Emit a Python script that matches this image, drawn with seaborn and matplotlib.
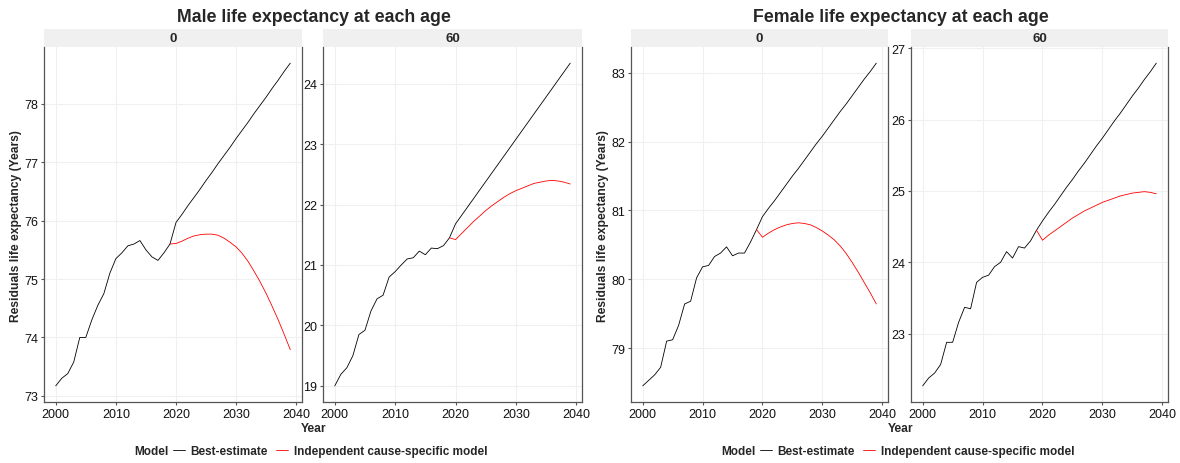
import numpy as np
import pandas as pd
import matplotlib
matplotlib.use('Agg')
import matplotlib.pyplot as plt
from matplotlib.patches import Rectangle
from matplotlib.lines import Line2D
import seaborn as sns

# ---- data ----
years = np.arange(2000, 2040)
proj_years = np.arange(2019, 2040)
models = ['Best-estimate', 'Independent cause-specific model']
ages = ['0', '60']

# Male, age 0
male_0_best = [73.17, 73.30, 73.38, 73.58, 74.00, 74.00, 74.30, 74.55, 74.75, 75.10,
               75.35, 75.45, 75.57, 75.60, 75.66, 75.50, 75.38, 75.32, 75.45, 75.60,
               75.97, 76.11, 76.26, 76.40, 76.54, 76.69, 76.83, 76.98, 77.12, 77.26,
               77.41, 77.55, 77.69, 77.84, 77.98, 78.12, 78.27, 78.41, 78.56, 78.70]
male_0_indep = [75.60, 75.61, 75.65, 75.70, 75.74, 75.76, 75.77, 75.77, 75.75, 75.70,
                75.63, 75.55, 75.44, 75.30, 75.13, 74.95, 74.75, 74.53, 74.30, 74.05,
                73.79]

# Male, age 60
male_60_best = [19.00, 19.19, 19.30, 19.50, 19.85, 19.92, 20.24, 20.44, 20.50, 20.80,
                20.89, 21.00, 21.10, 21.12, 21.23, 21.17, 21.28, 21.27, 21.32, 21.45,
                21.68, 21.82, 21.96, 22.10, 22.24, 22.38, 22.52, 22.66, 22.80, 22.94,
                23.08, 23.22, 23.36, 23.50, 23.64, 23.78, 23.92, 24.06, 24.20, 24.34]
male_60_indep = [21.45, 21.42, 21.52, 21.62, 21.72, 21.81, 21.90, 21.98, 22.05, 22.12,
                 22.18, 22.23, 22.27, 22.31, 22.35, 22.37, 22.39, 22.40, 22.39, 22.37,
                 22.34]

# Female, age 0
female_0_best = [78.45, 78.53, 78.61, 78.72, 79.10, 79.12, 79.33, 79.64, 79.68, 80.02,
                 80.18, 80.20, 80.33, 80.38, 80.47, 80.34, 80.38, 80.38, 80.54, 80.72,
                 80.91, 81.03, 81.14, 81.26, 81.38, 81.50, 81.61, 81.73, 81.85, 81.97,
                 82.08, 82.20, 82.32, 82.44, 82.55, 82.67, 82.79, 82.91, 83.02, 83.14]
female_0_indep = [80.72, 80.61, 80.67, 80.72, 80.76, 80.79, 80.81, 80.82, 80.81, 80.79,
                  80.75, 80.70, 80.64, 80.57, 80.48, 80.37, 80.24, 80.10, 79.95, 79.80,
                  79.64]

# Female, age 60
female_60_best = [22.27, 22.38, 22.45, 22.57, 22.88, 22.88, 23.16, 23.37, 23.35, 23.72,
                  23.79, 23.82, 23.94, 24.00, 24.15, 24.06, 24.22, 24.20, 24.30, 24.45,
                  24.58, 24.70, 24.81, 24.93, 25.05, 25.16, 25.28, 25.39, 25.51, 25.63,
                  25.74, 25.86, 25.98, 26.09, 26.21, 26.33, 26.44, 26.56, 26.67, 26.79]
female_60_indep = [24.45, 24.31, 24.38, 24.44, 24.50, 24.56, 24.62, 24.67, 24.72, 24.76,
                   24.80, 24.84, 24.87, 24.90, 24.93, 24.95, 24.97, 24.98, 24.99, 24.98,
                   24.96]


def build_frame(best_0, indep_0, best_60, indep_60):
    """Long table: Year / Value / Model / Age"""
    parts = []
    for age, best, indep in [('0', best_0, indep_0), ('60', best_60, indep_60)]:
        parts.append(pd.DataFrame({'Year': years, 'Value': best,
                                   'Model': models[0], 'Age': age}))
        parts.append(pd.DataFrame({'Year': proj_years, 'Value': indep,
                                   'Model': models[1], 'Age': age}))
    return pd.concat(parts, ignore_index=True)


male_df = build_frame(male_0_best, male_0_indep, male_60_best, male_60_indep)
female_df = build_frame(female_0_best, female_0_indep, female_60_best, female_60_indep)

palette = {models[0]: 'black', models[1]: '#FF0000'}

sns.set_theme(style='white')
plt.rcParams['font.family'] = ['Liberation Sans', 'DejaVu Sans']

W, H = 1180, 464
fig = plt.figure(figsize=(W / 100, H / 100), dpi=100)


def px_axes(left, right, top, bottom):
    return fig.add_axes([left / W, 1 - bottom / H, (right - left) / W, (bottom - top) / H])


STRIP_TOP, PANEL_TOP, PANEL_BOTTOM = 30, 48, 403
strip_h = (PANEL_TOP - STRIP_TOP) / (PANEL_BOTTOM - PANEL_TOP)

groups = [
    (male_df, 'Male life expectancy at each age', [(44, 302), (323, 582)], 314, 16),
    (female_df, 'Female life expectancy at each age', [(631, 888), (911, 1168)], 901, 603),
]

for df, title, boxes, cx, ylab_x in groups:
    for age, (l, r) in zip(ages, boxes):
        ax = px_axes(l, r, PANEL_TOP, PANEL_BOTTOM)
        sub = df[df['Age'] == age]
        sns.lineplot(data=sub, x='Year', y='Value', hue='Model', palette=palette,
                     ax=ax, legend=False, linewidth=0.6)

        # ggplot-like 5% expansion
        lo, hi = sub['Value'].min(), sub['Value'].max()
        pad = (hi - lo) * 0.05
        ax.set_ylim(lo - pad, hi + pad)
        ax.set_xlim(2000 - 39 * 0.05, 2039 + 39 * 0.05)
        ax.set_xticks([2000, 2010, 2020, 2030, 2040])
        ax.yaxis.set_major_locator(matplotlib.ticker.MultipleLocator(1))

        ax.set_xlabel('')
        ax.set_ylabel('')
        ax.grid(True, color='#F0F0F0', linewidth=0.8)
        ax.set_axisbelow(True)
        for side in ['left', 'bottom', 'right']:
            ax.spines[side].set_color('#555555')
            ax.spines[side].set_linewidth(0.9)
        ax.spines['top'].set_visible(False)
        ax.tick_params(axis='both', labelsize=9, colors='#555555', labelcolor='#111111',
                       length=2.5, width=0.8, pad=1.5, left=True, bottom=True)

        # facet strip
        ax.add_patch(Rectangle((0, 1), 1, strip_h, transform=ax.transAxes,
                               clip_on=False, facecolor='#F0F0F0', edgecolor='none'))
        ax.text(0.5, 1 + strip_h / 2, age, transform=ax.transAxes, ha='center',
                va='center', fontsize=9.5, fontweight='bold')

    fig.text(cx / W, 1 - 17 / H, title, ha='center', va='center',
             fontsize=12.8, fontweight='bold')
    fig.text(ylab_x / W, 1 - 226 / H, 'Residuals life expectancy (Years)',
             rotation=90, ha='center', va='center', fontsize=8.7, fontweight='bold')
    fig.text(cx / W, 1 - 429 / H, 'Year', ha='center', va='center',
             fontsize=8.7, fontweight='bold')

    # legend row under each group
    handles = [Line2D([], [], color=palette[m], linewidth=0.6) for m in models]
    fig.text((cx - 180) / W, 1 - 452 / H, 'Model', ha='left', va='center',
             fontsize=8.5, fontweight='bold')
    leg = fig.legend(handles, models, loc='center left',
                     bbox_to_anchor=((cx - 141) / W, 1 - 452 / H), ncol=2,
                     frameon=False, fontsize=8.5, handlelength=1.0,
                     handletextpad=0.5, columnspacing=0.7, borderaxespad=0,
                     borderpad=0)
    for t in leg.get_texts():
        t.set_fontweight('bold')

fig.savefig('out.png', dpi=100, facecolor='white')
